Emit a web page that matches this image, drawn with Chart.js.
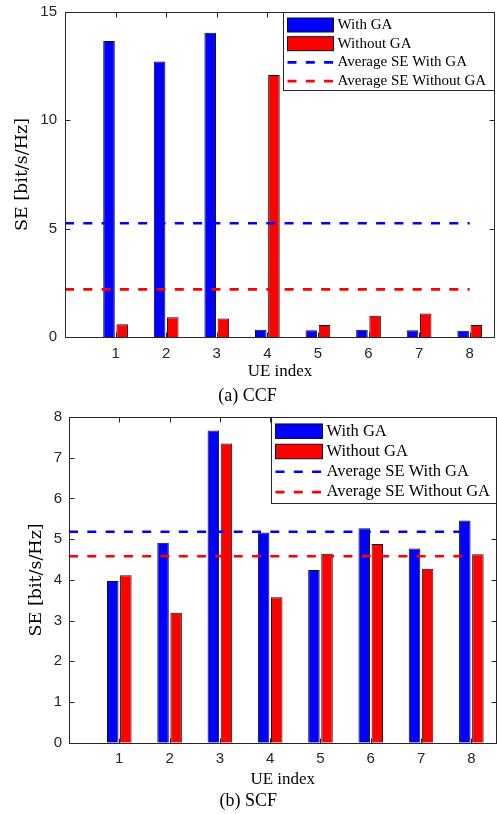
<!DOCTYPE html>
<html>
<head>
<meta charset="utf-8">
<script src="https://cdn.jsdelivr.net/npm/chart.js@4.4.0/dist/chart.umd.min.js"></script>
<style>
  body { margin: 0; background: #fff; }
  canvas { position: absolute; left: 0; }
</style>
</head>
<body>
<canvas id="ccf" width="497" height="406" style="top:0"></canvas>
<canvas id="scf" width="497" height="408" style="top:406px"></canvas>
<script>
// data
var ueIndex = [1, 2, 3, 4, 5, 6, 7, 8];
var seriesNames = ['With GA', 'Without GA', 'Average SE With GA', 'Average SE Without GA'];

var ccfWithGA = [13.66, 12.72, 14.04, 0.34, 0.31, 0.34, 0.31, 0.29];
var ccfWithoutGA = [0.59, 0.91, 0.85, 12.09, 0.55, 0.98, 1.09, 0.55];
var ccfAvg = [5.25, 2.2];
var ccfYTicks = [0, 5, 10, 15];

var scfWithGA = [3.97, 4.91, 7.67, 5.16, 4.24, 5.27, 4.77, 5.46];
var scfWithoutGA = [4.11, 3.19, 7.35, 3.57, 4.64, 4.88, 4.27, 4.63];
var scfAvg = [5.18, 4.58];
var scfYTicks = [0, 1, 2, 3, 4, 5, 6, 7, 8];

var axisColor = '#262626';

// box around the plot with inward ticks (matlab style)
var framePlugin = {
  id: 'frame',
  afterDatasetsDraw: function(chart) {
    var ctx = chart.ctx, a = chart.chartArea;
    var xs = chart.scales.x, ys = chart.scales.y;
    var L = Math.round(a.left) + 0.5, R = Math.round(a.right) - 0.5;
    var T = Math.round(a.top) + 0.5, B = Math.round(a.bottom) + 0.5;
    ctx.save();
    ctx.strokeStyle = axisColor;
    ctx.lineWidth = 1;
    ctx.strokeRect(L, T, R - L, B - T);
    ctx.beginPath();
    xs.ticks.forEach(function(t) {
      var px = Math.round(xs.getPixelForValue(t.value)) + 0.5;
      ctx.moveTo(px, T); ctx.lineTo(px, T + 5);
      ctx.moveTo(px, B); ctx.lineTo(px, B - 5);
    });
    ys.ticks.forEach(function(t) {
      var py = Math.round(ys.getPixelForValue(t.value)) + 0.5;
      ctx.moveTo(L, py); ctx.lineTo(L + 5, py);
      ctx.moveTo(R, py); ctx.lineTo(R - 5, py);
    });
    ctx.stroke();
    ctx.restore();
  }
};

var boxLegend = {
  id: 'boxLegend',
  afterDraw: function(chart, args, o) {
    var ctx = chart.ctx, a = chart.chartArea;
    var x0 = Math.round(a.right - o.width) + 0.5, y0 = Math.round(a.top) + 0.5;
    ctx.save();
    ctx.fillStyle = '#fff';
    ctx.fillRect(x0, y0, o.width, o.height);
    ctx.strokeStyle = axisColor;
    ctx.lineWidth = 1;
    ctx.strokeRect(x0, y0, o.width - 1, o.height);
    ctx.font = o.font;
    ctx.textBaseline = 'middle';
    chart.data.datasets.forEach(function(ds, i) {
      var cy = y0 + o.first + i * o.row;
      var sx = x0 + 4;
      if (ds.type === 'line') {
        ctx.setLineDash(ds.borderDash);
        ctx.strokeStyle = ds.borderColor;
        ctx.lineWidth = ds.borderWidth;
        ctx.beginPath();
        ctx.moveTo(sx, cy); ctx.lineTo(sx + o.swW, cy);
        ctx.stroke();
        ctx.setLineDash([]);
      } else {
        ctx.fillStyle = ds.backgroundColor;
        ctx.fillRect(sx, cy - o.swH / 2, o.swW, o.swH);
        ctx.strokeStyle = '#111';
        ctx.lineWidth = 1;
        ctx.strokeRect(sx, cy - o.swH / 2, o.swW, o.swH);
      }
      ctx.fillStyle = '#000';
      ctx.fillText(ds.label, x0 + o.textX, cy);
    });
    ctx.restore();
  }
};

function makeChart(id, withGA, withoutGA, avg, yMax, yTicks, caption, g) {
  var ctx = document.getElementById(id).getContext('2d');
  return new Chart(ctx, {
    type: 'bar',
    data: {
      datasets: [{
        label: seriesNames[0],
        data: ueIndex.map(function(u, i) { return {x: u, y: withGA[i]}; }),
        backgroundColor: '#0000ff',
        borderColor: '#111',
        borderWidth: 1,
        categoryPercentage: 0.52,
        barPercentage: 0.88,
        order: 2
      }, {
        label: seriesNames[1],
        data: ueIndex.map(function(u, i) { return {x: u, y: withoutGA[i]}; }),
        backgroundColor: '#ff0000',
        borderColor: '#111',
        borderWidth: 1,
        categoryPercentage: 0.52,
        barPercentage: 0.88,
        order: 2
      }, {
        type: 'line',
        label: seriesNames[2],
        data: [{x: 0, y: avg[0]}, {x: 8, y: avg[0]}],
        borderColor: '#0000ff',
        borderWidth: 2.6,
        borderDash: [9, 9.3],
        pointRadius: 0,
        pointHoverRadius: 0,
        order: 1
      }, {
        type: 'line',
        label: seriesNames[3],
        data: [{x: 0, y: avg[1]}, {x: 8, y: avg[1]}],
        borderColor: '#ff0000',
        borderWidth: 2.6,
        borderDash: [9, 9.3],
        pointRadius: 0,
        pointHoverRadius: 0,
        order: 1
      }]
    },
    options: {
      responsive: false,
      animation: false,
      layout: { autoPadding: false, padding: { top: g.padTop, right: g.padRight, bottom: g.padBottom, left: 0 } },
      plugins: {
        legend: { display: false },
        tooltip: { enabled: false },
        title: {
          display: true,
          position: 'bottom',
          text: caption,
          color: '#000',
          font: { family: 'Liberation Serif', size: 18, weight: 'normal', lineHeight: 1 },
          padding: 0
        },
        boxLegend: g.legend
      },
      scales: {
        x: {
          type: 'linear',
          min: 0,
          max: 8.5,
          offset: false,
          grid: { display: false, drawTicks: false },
          border: { display: false },
          afterBuildTicks: function(s) { s.ticks = ueIndex.map(function(v) { return {value: v}; }); },
          afterFit: function(s) { s.height = g.xHeight; s.paddingLeft = 0; s.paddingRight = 0; },
          ticks: { color: axisColor, padding: g.xLabelPad, font: { family: 'Liberation Sans', size: 15 } },
          title: {
            display: true,
            text: 'UE index',
            color: '#000',
            font: { family: 'Liberation Serif', size: 17 },
            padding: { top: 0, bottom: g.xTitlePad }
          }
        },
        y: {
          min: 0,
          max: yMax,
          grid: { display: false, drawTicks: false },
          border: { display: false },
          afterBuildTicks: function(s) { s.ticks = yTicks.map(function(v) { return {value: v}; }); },
          afterFit: function(s) { s.width = g.yWidth; s.paddingTop = 0; s.paddingBottom = 0; },
          ticks: { color: axisColor, padding: g.yLabelPad, font: { family: 'Liberation Sans', size: 15 } },
          title: {
            display: true,
            text: 'SE [bit/s/Hz]',
            color: '#000',
            font: { family: 'DejaVu Serif', size: 17.5 },
            padding: { top: g.yTitlePad, bottom: 0 }
          }
        }
      }
    },
    plugins: [framePlugin, boxLegend]
  });
}

makeChart('ccf', ccfWithGA, ccfWithoutGA, ccfAvg, 15, ccfYTicks, '(a) CCF', {
  padTop: 12, padRight: 2, padBottom: 0.5,
  yWidth: 65, xHeight: 50.5, xLabelPad: 7.5, yLabelPad: 8,
  xTitlePad: 5.3, yTitlePad: 12,
  legend: { width: 212, height: 78, first: 12.5, row: 18.7, font: '15px "Liberation Serif"', swW: 46, swH: 14, textX: 54 }
});

makeChart('scf', scfWithGA, scfWithoutGA, scfAvg, 8, scfYTicks, '(b) SCF', {
  padTop: 11, padRight: 0.5, padBottom: 3.3,
  yWidth: 69, xHeight: 50, xLabelPad: 7.5, yLabelPad: 7,
  xTitlePad: 2.5, yTitlePad: 26,
  legend: { width: 226, height: 86, first: 13.7, row: 20.3, font: '16.5px "Liberation Serif"', swW: 47, swH: 14.5, textX: 55 }
});
</script>
</body>
</html>
